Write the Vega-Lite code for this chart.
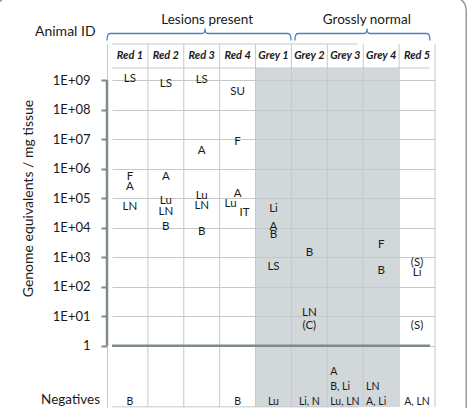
{
  "$schema": "https://vega.github.io/schema/vega-lite/v6.json",
  "width": 323,
  "height": 363,
  "autosize": {"type": "none"},
  "padding": {"left": 112, "top": 44, "right": 35, "bottom": 1},
  "background": "white",
  "config": {
    "view": {"stroke": null},
    "font": "Lato",
    "text": {"font": "Lato", "fontSize": 11.5, "color": "#1a1a1a"}
  },
  "data": {"values": [{}]},
  "datasets": {
    "animals": [
      {"animal": "Red 1", "group": "Red", "status": "Lesions present", "negatives": "B"},
      {"animal": "Red 2", "group": "Red", "status": "Lesions present", "negatives": ""},
      {"animal": "Red 3", "group": "Red", "status": "Lesions present", "negatives": ""},
      {"animal": "Red 4", "group": "Red", "status": "Lesions present", "negatives": "B"},
      {"animal": "Grey 1", "group": "Grey", "status": "Lesions present", "negatives": "Lu"},
      {"animal": "Grey 2", "group": "Grey", "status": "Grossly normal", "negatives": "Li, N"},
      {"animal": "Grey 3", "group": "Grey", "status": "Grossly normal", "negatives": "Lu, LN\nB,  Li\nA"},
      {"animal": "Grey 4", "group": "Grey", "status": "Grossly normal", "negatives": "A, Li\nLN"},
      {"animal": "Red 5", "group": "Red", "status": "Grossly normal", "negatives": "A, LN"}
    ],
    "detections": [
      {"animal": "Red 1", "tissue": "LS", "ge": 1.08e9},
      {"animal": "Red 1", "tissue": "F", "ge": 5.3e5},
      {"animal": "Red 1", "tissue": "A", "ge": 2.3e5},
      {"animal": "Red 1", "tissue": "LN", "ge": 4.9e4},
      {"animal": "Red 2", "tissue": "LS", "ge": 7.2e8},
      {"animal": "Red 2", "tissue": "A", "ge": 5.1e5},
      {"animal": "Red 2", "tissue": "Lu", "ge": 8.2e4},
      {"animal": "Red 2", "tissue": "LN", "ge": 3.3e4},
      {"animal": "Red 2", "tissue": "B", "ge": 1.07e4},
      {"animal": "Red 3", "tissue": "LS", "ge": 1.0e9},
      {"animal": "Red 3", "tissue": "A", "ge": 4.0e6},
      {"animal": "Red 3", "tissue": "Lu", "ge": 1.2e5},
      {"animal": "Red 3", "tissue": "LN", "ge": 5.4e4},
      {"animal": "Red 3", "tissue": "B", "ge": 7.3e3},
      {"animal": "Red 4", "tissue": "SU", "ge": 3.8e8},
      {"animal": "Red 4", "tissue": "F", "ge": 8.1e6},
      {"animal": "Red 4", "tissue": "A", "ge": 1.35e5},
      {"animal": "Red 4", "tissue": "Lu", "ge": 6.3e4},
      {"animal": "Red 4", "tissue": "IT", "ge": 3.1e4},
      {"animal": "Grey 1", "tissue": "Li", "ge": 4.2e4},
      {"animal": "Grey 1", "tissue": "A", "ge": 1.07e4},
      {"animal": "Grey 1", "tissue": "B", "ge": 5.6e3},
      {"animal": "Grey 1", "tissue": "LS", "ge": 474},
      {"animal": "Grey 2", "tissue": "B", "ge": 1350},
      {"animal": "Grey 2", "tissue": "LN", "ge": 12.5},
      {"animal": "Grey 2", "tissue": "(C)", "ge": 4.8},
      {"animal": "Grey 4", "tissue": "F", "ge": 2600},
      {"animal": "Grey 4", "tissue": "B", "ge": 347},
      {"animal": "Red 5", "tissue": "(S)", "ge": 649},
      {"animal": "Red 5", "tissue": "Li", "ge": 297},
      {"animal": "Red 5", "tissue": "(S)", "ge": 4.8}
    ]
  },
  "layer": [
    {
      "description": "rounded outer frame",
      "mark": {"type": "point", "shape": "M -0.8106 -0.6974 L 0.0684 -0.6974 Q 0.0984 -0.6974 0.0984 -0.6674 L 0.0984 0.1186 Q 0.0984 0.1486 0.0684 0.1486 L -0.8106 0.1486 Q -0.8406 0.1486 -0.8406 0.1186 L -0.8406 -0.6674 Q -0.8406 -0.6974 -0.8106 -0.6974 Z", "size": 1000000, "filled": false, "color": "#9a9a9a", "strokeWidth": 1.5, "opacity": 1},
      "encoding": {
        "x": {"datum": "Red 5", "type": "nominal", "bandPosition": 0.5, "axis": null, "scale": {"type": "band", "domain": ["Red 1", "Red 2", "Red 3", "Red 4", "Grey 1", "Grey 2", "Grey 3", "Grey 4", "Red 5"], "paddingInner": 0, "paddingOuter": 0}},
        "y": {"datum": 1, "type": "quantitative", "scale": {"type": "log", "domain": [0.0084, 1.66e10], "nice": false}}
      }
    },
    {
      "data": {"name": "animals"},
      "mark": {"type": "rule", "color": "#c4c9c9", "strokeWidth": 1},
      "encoding": {
        "x": {"field": "animal", "type": "nominal", "bandPosition": 1, "axis": null, "scale": {"type": "band", "domain": ["Red 1", "Red 2", "Red 3", "Red 4", "Grey 1", "Grey 2", "Grey 3", "Grey 4", "Red 5"], "paddingInner": 0, "paddingOuter": 0}}
      }
    },
    {
      "mark": {"type": "rule", "color": "#c4c9c9", "strokeWidth": 1, "xOffset": -77},
      "encoding": {"y": {"datum": 1.66e10, "type": "quantitative", "scale": {"type": "log", "domain": [0.0084, 1.66e10], "nice": false}}}
    },
    {
      "mark": {"type": "rule", "color": "#c4c9c9", "strokeWidth": 1, "xOffset": -77},
      "encoding": {"y": {"datum": 0.0085, "type": "quantitative", "scale": {"type": "log", "domain": [0.0084, 1.66e10], "nice": false}}}
    },
    {
      "mark": {"type": "rule", "color": "#c4c9c9", "strokeWidth": 1, "xOffset": -5},
      "encoding": {"y": {"datum": 2.55e9, "type": "quantitative", "scale": {"type": "log", "domain": [0.0084, 1.66e10], "nice": false}}}
    },
    {
      "data": {"name": "animals"},
      "transform": [{"filter": "datum.group == 'Grey'"}],
      "mark": {"type": "rect", "color": "#c3cacd", "opacity": 0.75},
      "encoding": {
        "x": {"field": "animal", "type": "nominal", "axis": null, "scale": {"type": "band", "domain": ["Red 1", "Red 2", "Red 3", "Red 4", "Grey 1", "Grey 2", "Grey 3", "Grey 4", "Red 5"], "paddingInner": 0, "paddingOuter": 0}},
        "y": {"datum": 2.55e9, "type": "quantitative", "scale": {"type": "log", "domain": [0.0084, 1.66e10], "nice": false}},
        "y2": {"datum": 0.0084}
      }
    },
    {
      "mark": {"type": "rule", "color": "#7f8b8b", "strokeWidth": 2.5, "xOffset": -5, "x2Offset": 13},
      "encoding": {"y": {"datum": 1, "type": "quantitative", "scale": {"type": "log", "domain": [0.0084, 1.66e10], "nice": false}}}
    },
    {
      "mark": {"type": "rule", "color": "#7f8b8b", "strokeWidth": 2.5, "xOffset": -5},
      "encoding": {
        "x": {"datum": "Red 1", "type": "nominal", "bandPosition": 0, "axis": null, "scale": {"type": "band", "domain": ["Red 1", "Red 2", "Red 3", "Red 4", "Grey 1", "Grey 2", "Grey 3", "Grey 4", "Red 5"], "paddingInner": 0, "paddingOuter": 0}},
        "y": {"datum": 1, "type": "quantitative", "scale": {"type": "log", "domain": [0.0084, 1.66e10], "nice": false}},
        "y2": {"datum": 1e9}
      }
    },
    {
      "data": {"name": "detections"},
      "transform": [{"filter": "!(datum.animal == 'Red 4' && (datum.tissue == 'Lu' || datum.tissue == 'IT'))"}],
      "mark": {"type": "text"},
      "encoding": {
        "x": {"field": "animal", "type": "nominal", "bandPosition": 0.5, "axis": null, "scale": {"type": "band", "domain": ["Red 1", "Red 2", "Red 3", "Red 4", "Grey 1", "Grey 2", "Grey 3", "Grey 4", "Red 5"], "paddingInner": 0, "paddingOuter": 0}},
        "y": {
          "field": "ge", "type": "quantitative",
          "scale": {"type": "log", "domain": [0.0084, 1.66e10], "nice": false},
          "axis": {
            "values": [1, 10, 100, 1000, 10000, 100000, 1000000, 10000000, 100000000, 1000000000],
            "labelExpr": "datum.value < 2 ? '1' : '1E+0' + round(log(datum.value) / LN10)",
            "offset": 5,
            "domain": true, "domainColor": "#c4c9c9", "domainWidth": 1,
            "ticks": true, "tickColor": "#7f8b8b", "tickWidth": 2, "tickSize": 6,
            "grid": true, "gridColor": "#c4c9c9", "gridWidth": 1,
            "labelFont": "Lato", "labelFontSize": 13, "labelColor": "#1a1a1a", "labelPadding": 11,
            "title": "Genome equivalents / mg tissue",
            "titleFont": "Lato", "titleFontSize": 14, "titleFontWeight": "normal", "titleColor": "#1a1a1a",
            "titleAngle": 270, "titleBaseline": "alphabetic", "titleX": -75, "titleY": 154
          }
        },
        "text": {"field": "tissue"}
      }
    },
    {
      "data": {"name": "detections"},
      "transform": [{"filter": "datum.animal == 'Red 4' && datum.tissue == 'Lu'"}],
      "mark": {"type": "text", "align": "right", "dx": -1},
      "encoding": {
        "x": {"field": "animal", "type": "nominal", "bandPosition": 0.5, "axis": null, "scale": {"type": "band", "domain": ["Red 1", "Red 2", "Red 3", "Red 4", "Grey 1", "Grey 2", "Grey 3", "Grey 4", "Red 5"], "paddingInner": 0, "paddingOuter": 0}},
        "y": {"field": "ge", "type": "quantitative", "scale": {"type": "log", "domain": [0.0084, 1.66e10], "nice": false}},
        "text": {"field": "tissue"}
      }
    },
    {
      "data": {"name": "detections"},
      "transform": [{"filter": "datum.animal == 'Red 4' && datum.tissue == 'IT'"}],
      "mark": {"type": "text", "align": "left", "dx": 2},
      "encoding": {
        "x": {"field": "animal", "type": "nominal", "bandPosition": 0.5, "axis": null, "scale": {"type": "band", "domain": ["Red 1", "Red 2", "Red 3", "Red 4", "Grey 1", "Grey 2", "Grey 3", "Grey 4", "Red 5"], "paddingInner": 0, "paddingOuter": 0}},
        "y": {"field": "ge", "type": "quantitative", "scale": {"type": "log", "domain": [0.0084, 1.66e10], "nice": false}},
        "text": {"field": "tissue"}
      }
    },
    {
      "data": {"name": "animals"},
      "mark": {"type": "text", "fontSize": 11, "fontWeight": "bold", "fontStyle": "italic"},
      "encoding": {
        "x": {"field": "animal", "type": "nominal", "bandPosition": 0.5, "axis": null, "scale": {"type": "band", "domain": ["Red 1", "Red 2", "Red 3", "Red 4", "Grey 1", "Grey 2", "Grey 3", "Grey 4", "Red 5"], "paddingInner": 0, "paddingOuter": 0}},
        "y": {"datum": 6.5e9, "type": "quantitative", "scale": {"type": "log", "domain": [0.0084, 1.66e10], "nice": false}},
        "text": {"field": "animal"}
      }
    },
    {
      "data": {"name": "animals"},
      "transform": [{"filter": "datum.negatives != '' && indexof(datum.negatives, '\\n') < 0"}],
      "mark": {"type": "text", "fontSize": 10.5, "baseline": "bottom"},
      "encoding": {
        "x": {"field": "animal", "type": "nominal", "bandPosition": 0.5, "axis": null, "scale": {"type": "band", "domain": ["Red 1", "Red 2", "Red 3", "Red 4", "Grey 1", "Grey 2", "Grey 3", "Grey 4", "Red 5"], "paddingInner": 0, "paddingOuter": 0}},
        "y": {"datum": 0.0081, "type": "quantitative", "scale": {"type": "log", "domain": [0.0084, 1.66e10], "nice": false}},
        "text": {"field": "negatives"}
      }
    },
    {
      "description": "multi-line lists grow upward from the bottom line",
      "data": {"name": "animals"},
      "transform": [{"filter": "indexof(datum.negatives, '\\n') >= 0"}],
      "mark": {"type": "text", "fontSize": 10.5, "baseline": "bottom", "align": "left", "lineBreak": "\n", "lineHeight": -15},
      "encoding": {
        "x": {"field": "animal", "type": "nominal", "bandPosition": 0.08, "axis": null, "scale": {"type": "band", "domain": ["Red 1", "Red 2", "Red 3", "Red 4", "Grey 1", "Grey 2", "Grey 3", "Grey 4", "Red 5"], "paddingInner": 0, "paddingOuter": 0}},
        "y": {"datum": 0.0081, "type": "quantitative", "scale": {"type": "log", "domain": [0.0084, 1.66e10], "nice": false}},
        "text": {"field": "negatives"}
      }
    },
    {
      "mark": {"type": "text", "fontSize": 13.5, "align": "right", "baseline": "bottom", "dx": -12},
      "encoding": {
        "x": {"datum": "Red 1", "type": "nominal", "bandPosition": 0, "axis": null, "scale": {"type": "band", "domain": ["Red 1", "Red 2", "Red 3", "Red 4", "Grey 1", "Grey 2", "Grey 3", "Grey 4", "Red 5"], "paddingInner": 0, "paddingOuter": 0}},
        "y": {"datum": 0.0081, "type": "quantitative", "scale": {"type": "log", "domain": [0.0084, 1.66e10], "nice": false}},
        "text": {"value": "Negatives"}
      }
    },
    {
      "mark": {"type": "text", "fontSize": 14, "align": "left", "dx": -77},
      "encoding": {
        "x": {"datum": "Red 1", "type": "nominal", "bandPosition": 0, "axis": null, "scale": {"type": "band", "domain": ["Red 1", "Red 2", "Red 3", "Red 4", "Grey 1", "Grey 2", "Grey 3", "Grey 4", "Red 5"], "paddingInner": 0, "paddingOuter": 0}},
        "y": {"datum": 4.3e10, "type": "quantitative", "scale": {"type": "log", "domain": [0.0084, 1.66e10], "nice": false}},
        "text": {"value": "Animal ID"}
      }
    },
    {
      "mark": {"type": "text", "fontSize": 13.5},
      "encoding": {
        "x": {"datum": "Red 3", "type": "nominal", "bandPosition": 0.65, "axis": null, "scale": {"type": "band", "domain": ["Red 1", "Red 2", "Red 3", "Red 4", "Grey 1", "Grey 2", "Grey 3", "Grey 4", "Red 5"], "paddingInner": 0, "paddingOuter": 0}},
        "y": {"datum": 1.04e11, "type": "quantitative", "scale": {"type": "log", "domain": [0.0084, 1.66e10], "nice": false}},
        "text": {"value": "Lesions present"}
      }
    },
    {
      "mark": {"type": "text", "fontSize": 13.5},
      "encoding": {
        "x": {"datum": "Grey 4", "type": "nominal", "bandPosition": 0.1, "axis": null, "scale": {"type": "band", "domain": ["Red 1", "Red 2", "Red 3", "Red 4", "Grey 1", "Grey 2", "Grey 3", "Grey 4", "Red 5"], "paddingInner": 0, "paddingOuter": 0}},
        "y": {"datum": 1.04e11, "type": "quantitative", "scale": {"type": "log", "domain": [0.0084, 1.66e10], "nice": false}},
        "text": {"value": "Grossly normal"}
      }
    },
    {
      "description": "brace over the animals with lesions",
      "mark": {"type": "point", "shape": "M -0.947 0.07 Q -0.947 0 -0.917 0 L 0.005 0 Q 0.033 0 0.033 -0.05 Q 0.033 0 0.061 0 L 0.863 0 Q 0.893 0 0.893 0.07", "size": 40000, "filled": false, "color": "#4f81bd", "strokeWidth": 1.3, "opacity": 1},
      "encoding": {
        "x": {"datum": "Red 3", "type": "nominal", "bandPosition": 0.5, "axis": null, "scale": {"type": "band", "domain": ["Red 1", "Red 2", "Red 3", "Red 4", "Grey 1", "Grey 2", "Grey 3", "Grey 4", "Red 5"], "paddingInner": 0, "paddingOuter": 0}},
        "y": {"datum": 3.77e10, "type": "quantitative", "scale": {"type": "log", "domain": [0.0084, 1.66e10], "nice": false}}
      }
    },
    {
      "description": "brace over the grossly normal animals",
      "mark": {"type": "point", "shape": "M -0.862 0.07 Q -0.862 0 -0.832 0 L -0.17 0 Q -0.142 0 -0.142 -0.05 Q -0.142 0 -0.114 0 L 0.458 0 Q 0.488 0 0.488 0.07", "size": 40000, "filled": false, "color": "#4f81bd", "strokeWidth": 1.3, "opacity": 1},
      "encoding": {
        "x": {"datum": "Grey 4", "type": "nominal", "bandPosition": 0.5, "axis": null, "scale": {"type": "band", "domain": ["Red 1", "Red 2", "Red 3", "Red 4", "Grey 1", "Grey 2", "Grey 3", "Grey 4", "Red 5"], "paddingInner": 0, "paddingOuter": 0}},
        "y": {"datum": 3.77e10, "type": "quantitative", "scale": {"type": "log", "domain": [0.0084, 1.66e10], "nice": false}}
      }
    }
  ]
}
